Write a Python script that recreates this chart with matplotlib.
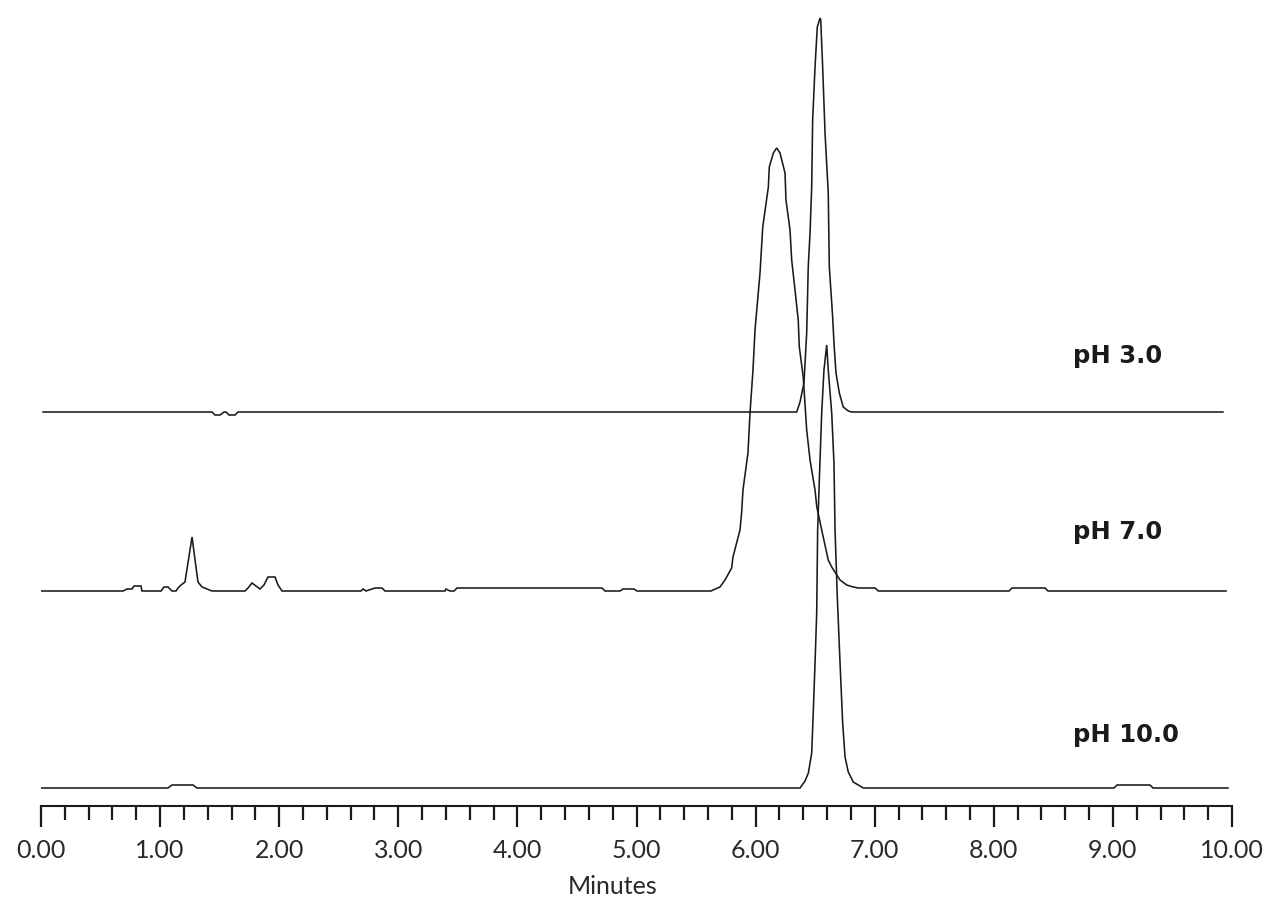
import matplotlib
matplotlib.use("Agg")
import matplotlib.pyplot as plt
from matplotlib.ticker import MultipleLocator, FormatStrFormatter

# ---- data (time in minutes, detector response in arbitrary units) ----
ph3_time = [0.017, 1.436, 1.461, 1.503, 1.537, 1.553, 1.579, 1.629, 1.654,
            6.345, 6.373, 6.406, 6.429, 6.442, 6.457, 6.471, 6.479, 6.499, 6.518,
            6.541, 6.547, 6.563, 6.583, 6.610, 6.619, 6.647, 6.658, 6.675, 6.703,
            6.736, 6.778, 6.807, 9.924]
ph3_signal = [0, 0, -3, -3, 0, 0, -3, -3, 0,
              0, 10, 29, 79, 145, 179, 225, 292, 345, 385,
              394, 392, 345, 279, 219, 145, 95, 69, 39, 19,
              5, 1, 0, 0]

ph7_time = [0.0, 0.689, 0.722, 0.764, 0.781, 0.840, 0.848, 1.008, 1.033, 1.066,
            1.100, 1.134, 1.150, 1.176, 1.209, 1.268, 1.318, 1.352, 1.394, 1.436,
            1.713, 1.738, 1.772, 1.805, 1.839, 1.872, 1.906, 1.965, 1.990, 2.024,
            2.687, 2.704, 2.729, 2.804, 2.863, 2.888, 3.392, 3.400, 3.434, 3.468,
            3.493, 4.710, 4.736, 4.861, 4.887, 4.979, 5.004, 5.626, 5.642, 5.701,
            5.743, 5.799, 5.810, 5.869, 5.883, 5.894, 5.936, 5.953, 5.978, 5.995,
            6.037, 6.060, 6.107, 6.115, 6.149, 6.177, 6.205, 6.247, 6.255, 6.289,
            6.303, 6.331, 6.358, 6.367, 6.400, 6.429, 6.457, 6.499, 6.514, 6.555,
            6.610, 6.639, 6.709, 6.765, 6.820, 6.862, 7.003, 7.030, 8.128, 8.153,
            8.430, 8.455, 9.950]
ph7_signal = [0, 0, 2, 2, 5, 5, 0, 0, 4, 4,
              0, 0, 3, 6, 9, 54, 9, 4, 2, 0,
              0, 3, 8, 5, 2, 6, 14, 14, 6, 0,
              0, 2, 0, 3, 3, 0, 0, 2, 0, 0,
              3, 3, 0, 0, 2, 2, 0, 0, 1, 4,
              11, 23, 34, 61, 79, 101, 138, 178, 221, 261,
              318, 364, 404, 424, 438, 443, 438, 418, 391, 361,
              331, 301, 271, 244, 214, 161, 131, 101, 84, 61,
              31, 24, 11, 6, 4, 3, 3, 0, 0, 3,
              3, 0, 0]

ph10_time = [0.0, 1.066, 1.100, 1.276, 1.310, 6.373, 6.415, 6.443, 6.471, 6.484,
             6.499, 6.513, 6.521, 6.535, 6.555, 6.574, 6.597, 6.610, 6.639, 6.658,
             6.667, 6.686, 6.709, 6.731, 6.751, 6.778, 6.820, 6.862, 6.904, 9.009,
             9.035, 9.311, 9.337, 9.966]
ph10_signal = [0, 0, 3, 3, 0, 0, 7, 15, 35, 75,
               125, 175, 258, 308, 375, 418, 443, 418, 375, 325,
               258, 191, 125, 65, 31, 16, 6, 3, 0, 0,
               3, 3, 0, 0]

trace_labels = ["pH 3.0", "pH 7.0", "pH 10.0"]
trace_offsets = [394, 215, 18]
label_y = [450, 274, 71]
label_x = 8.665

x_min, x_max = 0.0, 10.0
major_step, minor_step = 1.0, 0.2

# ---- figure ----
fig = plt.figure(figsize=(12.8, 9.19), dpi=100)
W, H = 1280, 919
ax = fig.add_axes([41 / W, (H - 806) / H, (1232 - 41) / W, 806 / H])

times = [ph3_time, ph7_time, ph10_time]
signals = [ph3_signal, ph7_signal, ph10_signal]
for t, s, off, lab, ly in zip(times, signals, trace_offsets, trace_labels, label_y):
    ax.plot(t, [v + off for v in s], color="#1a1a1a", lw=1.15, solid_joinstyle="miter")
    ax.text(label_x, ly, lab, fontsize=17.5, fontweight="bold", family=["DejaVu Sans"],
            ha="left", va="center", color="#1a1a1a")

ax.set_xlim(x_min, x_max)
ax.set_ylim(0, 806)
for sp in ["left", "right", "top"]:
    ax.spines[sp].set_visible(False)
ax.spines["bottom"].set_linewidth(1.5)
ax.spines["bottom"].set_color("#1a1a1a")
ax.set_yticks([])
ax.xaxis.set_major_locator(MultipleLocator(major_step))
ax.xaxis.set_minor_locator(MultipleLocator(minor_step))
ax.xaxis.set_major_formatter(FormatStrFormatter("%.2f"))
ax.tick_params(axis="x", which="major", direction="out", length=15, width=1.6,
               color="#1a1a1a", pad=9, labelsize=18, labelcolor="#2a2a2a")
ax.tick_params(axis="x", which="minor", direction="out", length=10, width=1.6,
               color="#1a1a1a")
for lbl in ax.get_xticklabels():
    lbl.set_family(["Lato", "DejaVu Sans"])
    lbl.set_fontweight("normal")
ax.set_xlabel("Minutes", fontsize=18, family=["Lato", "DejaVu Sans"], fontweight="normal",
              color="#2a2a2a")
ax.xaxis.set_label_coords((613 - 41) / 1191, -81 / 806)
ax.xaxis.label.set_va("center")

fig.savefig("out.png", dpi=100, facecolor="white")
